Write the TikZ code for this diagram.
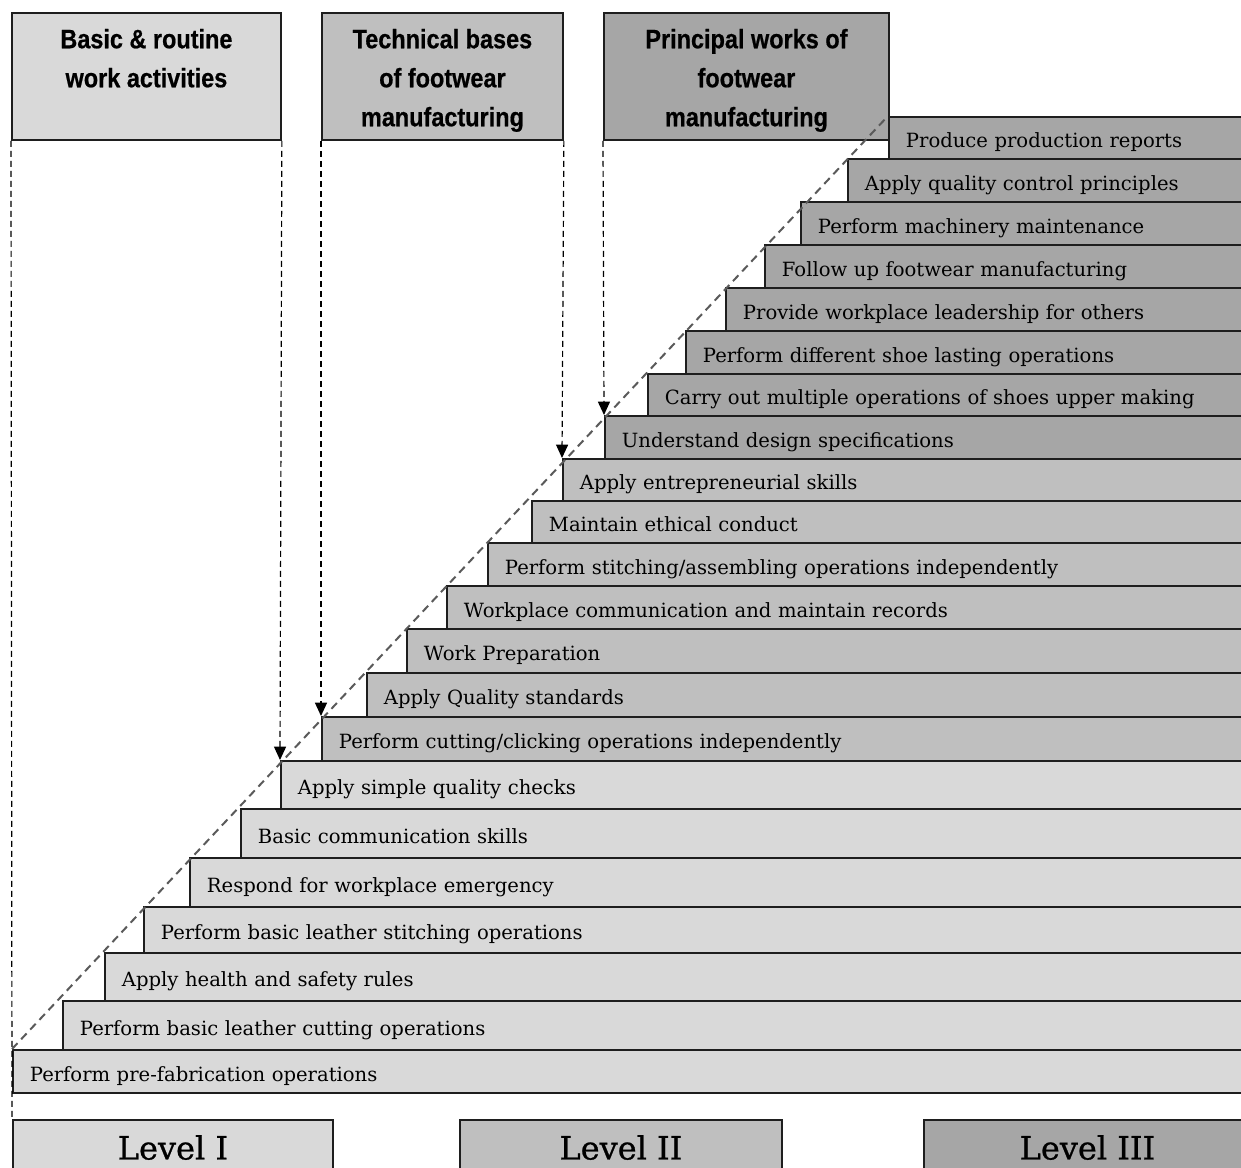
\documentclass[tikz,border=0pt]{standalone}
\usepackage{fontspec}
\usetikzlibrary{arrows.meta}
\newfontfamily\headfont{Liberation Sans Bold}[FakeStretch=0.88, FakeBold=0.6]
\newfontfamily\rowfont{DejaVu Serif}
\newfontfamily\levelfont{DejaVu Serif}[FakeBold=0.8]
\definecolor{lvA}{HTML}{D9D9D9}
\definecolor{lvB}{HTML}{BFBFBF}
\definecolor{lvC}{HTML}{A6A6A6}
\definecolor{edge}{HTML}{1E1E1E}
\definecolor{diag}{HTML}{5A5A5A}

% one step of the staircase: name, left, top, bottom, fill, label
\newcommand\steprow[6]{%
  \pgfmathsetlengthmacro\rowtw{(1226-#2)*0.75pt}%
  \pgfmathsetlengthmacro\rowht{(#4-#3)*0.75pt}%
  \node[rowbox, fill=#5, text width=\rowtw, minimum height=\rowht] (#1) at (#2,#3) {#6};}

\tikzset{
  rowbox/.style={draw=edge, line width=1.4pt, anchor=north west,
    inner xsep=12.75pt, inner ysep=0pt, align=left,
    text height=16pt, text depth=1pt,
    font=\rowfont\fontsize{14.7pt}{17pt}\selectfont},
  headbox/.style={draw=edge, line width=1.4pt, anchor=north west, inner sep=0pt},
  headtext/.style={anchor=north, inner sep=0pt, align=center,
    font=\headfont\fontsize{20pt}{29.25pt}\selectfont},
  lvlbox/.style={draw=edge, line width=1.4pt, anchor=north west, inner sep=0pt,
    text height=19.5pt, text depth=0pt,
    font=\levelfont\fontsize{24pt}{28pt}\selectfont},
  guide/.style={black, line width=0.9pt, dash pattern=on 4.5pt off 3pt},
  guidearrow/.style={guide, -{Triangle[width=9pt,length=10pt]}},
  slope/.style={diag, line width=1.5pt, dash pattern=on 6pt off 4pt},
}

\begin{document}
\begin{tikzpicture}[x=0.75pt, y=-0.75pt]
\useasboundingbox (0,0) rectangle (1241,1167);
\clip (0,0) rectangle (1241,1167);

% header boxes
\node[headbox, fill=lvA, minimum width=269*0.75pt, minimum height=127*0.75pt] (h1) at (11,12) {};
\node[headbox, fill=lvB, minimum width=241*0.75pt, minimum height=127*0.75pt] (h2) at (321,12) {};
\node[headbox, fill=lvC, minimum width=285*0.75pt, minimum height=127*0.75pt] (h3) at (603,12) {};
\node[headtext] (t1) at ([yshift=-12.5pt]h1.north) {Basic \& routine\\work activities};
\node[headtext] (t2) at ([yshift=-12.5pt]h2.north) {Technical bases\\of footwear\\manufacturing};
\node[headtext] (t3) at ([yshift=-12.5pt]h3.north) {Principal works of\\footwear\\manufacturing};

% level I steps
\steprow{r1}{12}{1049}{1092}{lvA}{Perform pre-fabrication operations}
\steprow{r2}{62}{1000}{1049}{lvA}{Perform basic leather cutting operations}
\steprow{r3}{104}{952}{1000}{lvA}{Apply health and safety rules}
\steprow{r4}{143}{906}{952}{lvA}{Perform basic leather stitching operations}
\steprow{r5}{189}{857}{906}{lvA}{Respond for workplace emergency}
\steprow{r6}{240}{808}{857}{lvA}{Basic communication skills}
\steprow{r7}{280}{760}{808}{lvA}{Apply simple quality checks}
% level II steps
\steprow{r8}{321}{716}{760}{lvB}{Perform cutting/clicking operations independently}
\steprow{r9}{366}{672}{716}{lvB}{Apply Quality standards}
\steprow{r10}{406}{628}{672}{lvB}{Work Preparation}
\steprow{r11}{446}{585}{628}{lvB}{Workplace communication and maintain records}
\steprow{r12}{487}{542}{585}{lvB}{Perform stitching/assembling operations independently}
\steprow{r13}{531}{500}{542}{lvB}{Maintain ethical conduct}
\steprow{r14}{562}{458}{500}{lvB}{Apply entrepreneurial skills}
% level III steps
\steprow{r15}{604}{415}{458}{lvC}{Understand design specifications}
\steprow{r16}{647}{373}{415}{lvC}{Carry out multiple operations of shoes upper making}
\steprow{r17}{685}{330}{373}{lvC}{Perform different shoe lasting operations}
\steprow{r18}{725}{287}{330}{lvC}{Provide workplace leadership for others}
\steprow{r19}{764}{244}{287}{lvC}{Follow up footwear manufacturing}
\steprow{r20}{800}{201}{244}{lvC}{Perform machinery maintenance}
\steprow{r21}{847}{158}{201}{lvC}{Apply quality control principles}
\steprow{r22}{888}{116}{158}{lvC}{Produce production reports}

% level boxes
\node[lvlbox, fill=lvA, minimum width=320*0.75pt, minimum height=53*0.75pt] (L1) at (12,1119) {Level I};
\node[lvlbox, fill=lvB, minimum width=322*0.75pt, minimum height=53*0.75pt] (L2) at (459,1119) {Level II};
\node[lvlbox, fill=lvC, minimum width=327*0.75pt, minimum height=53*0.75pt] (L3) at (923,1119) {Level III};

% diagonal along the step corners
\draw[slope] (r1.north west) -- (r22.north west);

% guides from the headers down to the steps
\draw[guide] (h1.south west) -- (L1.north west);
\draw[guidearrow] (h1.south east) -- (r7.north west);
\draw[guidearrow] (h2.south west) -- (r8.north west);
\draw[guidearrow] (h2.south east) -- (r14.north west);
\draw[guidearrow] (h3.south west) -- (r15.north west);
\end{tikzpicture}
\end{document}
